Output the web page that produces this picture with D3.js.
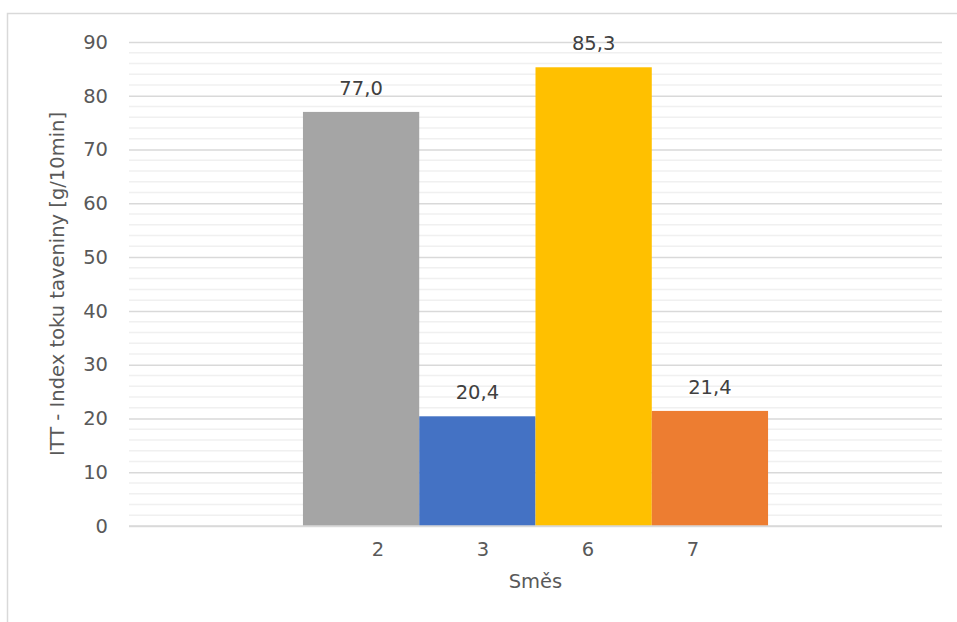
<!DOCTYPE html>
<html>
<head>
<meta charset="utf-8">
<script src="https://cdn.jsdelivr.net/npm/d3@7"></script>
<style>
  html, body { margin: 0; padding: 0; background: #fff; }
  svg { display: block; font-family: "DejaVu Sans", "Noto Sans", sans-serif; }
</style>
</head>
<body>
<svg id="chart" width="957" height="622"></svg>
<script>
// Data: melt flow index per blend (one category, four series)
const seriesNames = ["2", "3", "6", "7"];
const seriesValues = [77.0, 20.4, 85.3, 21.4];
const seriesColors = ["#a5a5a5", "#4472c4", "#ffc000", "#ed7d31"];
const yMajorTicks = [0, 10, 20, 30, 40, 50, 60, 70, 80, 90];
const yAxisTitle = "ITT - Index toku taveniny [g/10min]";
const xAxisTitle = "Směs";

const FONT = "\"DejaVu Sans\", \"Noto Sans\", sans-serif";
const FS = 19.5;
const svg = d3.select("#chart");
const W = 957, H = 622;
const plot = { left: 129, right: 942, top: 42, bottom: 526 };

// Chart frame
svg.append("rect")
  .attr("x", 7.5).attr("y", 13.5)
  .attr("width", W + 10).attr("height", H + 10)
  .attr("fill", "#fff").attr("stroke", "#d9d9d9").attr("stroke-width", 1.5);

const y = d3.scaleLinear().domain([0, 90]).range([plot.bottom, plot.top]);

// Single category holding all series; inner band for each series
const x0 = d3.scaleBand().domain(["all"]).range([plot.left, plot.right]).paddingInner(0).paddingOuter(0.374);
const x1 = d3.scaleBand().domain(seriesNames).range([0, x0.bandwidth()]).padding(0);

// Minor gridlines every 2 units
const minorTicks = d3.range(0, 90.001, 2).filter(v => v % 10 !== 0);
svg.append("g").selectAll("line").data(minorTicks).join("line")
  .attr("x1", plot.left).attr("x2", plot.right)
  .attr("y1", d => y(d)).attr("y2", d => y(d))
  .attr("stroke", "#f0f0f0").attr("stroke-width", 1.5);

// Major gridlines via axis
const yAxis = d3.axisLeft(y).tickValues(yMajorTicks).tickSize(-(plot.right - plot.left)).tickPadding(21)
  .tickFormat(d3.format("d"));
const gy = svg.append("g").attr("transform", `translate(${plot.left},0)`).call(yAxis);
gy.select(".domain").remove();
gy.selectAll(".tick line").attr("stroke", "#d9d9d9").attr("stroke-width", 1.5);
gy.selectAll(".tick text")
  .attr("fill", "#595959").attr("font-size", FS)
  .attr("font-family", FONT);

// Bars
const g = svg.append("g").attr("transform", `translate(${x0("all")},0)`);
const data = seriesNames.map((n, i) => ({ name: n, value: seriesValues[i], color: seriesColors[i] }));
g.selectAll("rect").data(data).join("rect")
  .attr("x", d => x1(d.name))
  .attr("y", d => y(d.value))
  .attr("width", x1.bandwidth())
  .attr("height", d => y(0) - y(d.value))
  .attr("fill", d => d.color);

// Value labels
const fmt = v => d3.format(".1f")(v).replace(".", ",");
g.selectAll("text").data(data).join("text")
  .attr("x", d => x1(d.name) + x1.bandwidth() / 2)
  .attr("y", d => y(d.value) - 17)
  .attr("text-anchor", "middle")
  .attr("fill", "#404040").attr("font-size", FS)
  .text(d => fmt(d.value));

// Baseline
svg.append("line")
  .attr("x1", plot.left).attr("x2", plot.right)
  .attr("y1", y(0)).attr("y2", y(0))
  .attr("stroke", "#d9d9d9").attr("stroke-width", 1.5);

// Category label: the series names spaced out under the group
const labelGap = 105;
const cx = x0("all") + x0.bandwidth() / 2;
svg.append("g").selectAll("text").data(seriesNames).join("text")
  .attr("x", (d, i) => cx + (i - (seriesNames.length - 1) / 2) * labelGap)
  .attr("y", plot.bottom + 30)
  .attr("text-anchor", "middle")
  .attr("fill", "#595959").attr("font-size", FS)
  .text(d => d);

// Axis titles
svg.append("text")
  .attr("x", cx).attr("y", plot.bottom + 62)
  .attr("text-anchor", "middle")
  .attr("fill", "#595959").attr("font-size", FS)
  .text(xAxisTitle);

svg.append("text")
  .attr("transform", `translate(64,${(plot.top + plot.bottom) / 2}) rotate(-90)`)
  .attr("text-anchor", "middle")
  .attr("fill", "#595959").attr("font-size", FS)
  .text(yAxisTitle);
</script>
</body>
</html>
